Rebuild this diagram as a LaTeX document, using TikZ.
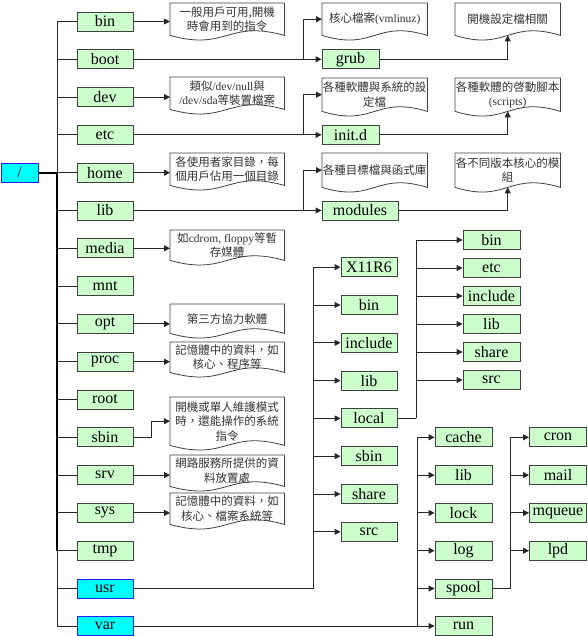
\documentclass[tikz,border=0pt]{standalone}
\usepackage{fontspec}
\setmainfont{Liberation Serif}
\newfontfamily\cjk{Noto Sans CJK TC}
\usetikzlibrary{arrows.meta}
\pgfdeclarelayer{edgelayer}
\pgfdeclarelayer{nodelayer}
\pgfsetlayers{edgelayer,nodelayer,main}
\definecolor{dirfill}{HTML}{CCFFCC}
\definecolor{dirline}{HTML}{404040}
\definecolor{hotfill}{HTML}{00FFFF}
\definecolor{hotline}{HTML}{2020FF}
\definecolor{noteline}{HTML}{404040}
\newcommand{\lat}[1]{{\rmfamily #1}}
\tikzset{font=\fontsize{16}{18}\selectfont}
\tikzstyle{none}=[inner sep=0pt]
\tikzstyle{dir}=[rectangle,draw=dirline,fill=dirfill,line width=0.9pt,minimum width=56pt,minimum height=19pt,inner sep=0pt]
\tikzstyle{dirw}=[dir,minimum width=57pt]
\tikzstyle{hot}=[dir,draw=hotline,fill=hotfill]
\tikzstyle{note}=[inner sep=0pt,minimum width=114pt,minimum height=32pt,align=center,text=black!80,font=\cjk\fontsize{11.5}{14.5}\selectfont]
\tikzstyle{notes}=[note,minimum width=105pt]
\tikzstyle{wave}=[draw=noteline,line width=0.8pt]
\tikzstyle{link}=[draw=black!85,line width=0.9pt]
\tikzstyle{arrow}=[link,-{Triangle[length=6pt,width=6pt]}]
\tikzstyle{trunk}=[draw=black,line width=1.8pt]
\newcommand{\tape}[1]{\draw [style=wave] (#1.north west) -- (#1.north east) -- (#1.south east) .. controls ([yshift=16pt]#1.south) and ([yshift=-16pt]#1.south) .. (#1.south west) -- cycle;}

\begin{document}
\begin{tikzpicture}[x=1pt,y=-1pt]
	\useasboundingbox (0,0) rectangle (587,636);
	\begin{pgfonlayer}{nodelayer}
		\node [style=hot, minimum width=37pt] (0) at (19.5, 172.7) {/};
		\node [style=dir] (1) at (105, 21.5) {bin};
		\node [style=dir] (2) at (105, 59.3) {boot};
		\node [style=dir] (3) at (105, 97.1) {dev};
		\node [style=dir] (4) at (105, 134.9) {etc};
		\node [style=dir] (5) at (105, 172.7) {home};
		\node [style=dir] (6) at (105, 210.5) {lib};
		\node [style=dir] (7) at (105, 248.3) {media};
		\node [style=dir] (8) at (105, 286.1) {mnt};
		\node [style=dir] (9) at (105, 323.9) {opt};
		\node [style=dir] (10) at (105, 361.7) {proc};
		\node [style=dir] (11) at (105, 399.5) {root};
		\node [style=dir] (12) at (105, 437.3) {sbin};
		\node [style=dir] (13) at (105, 475.1) {srv};
		\node [style=dir] (14) at (105, 512.9) {sys};
		\node [style=dir] (15) at (105, 550.7) {tmp};
		\node [style=hot] (16) at (105, 588.5) {usr};
		\node [style=hot] (17) at (105, 626) {var};
		\node [style=note, anchor=north west] (18) at (170, 3) {一般用戶可用,開機\\時會用到的指令};
		\node [style=note, anchor=north west] (19) at (170, 77) {類似\lat{/dev/null}與\\\lat{/dev/sda}等裝置檔案};
		\node [style=note, anchor=north west] (20) at (170, 153) {各使用者家目錄，每\\個用戶佔用一個目錄};
		\node [style=note, anchor=north west, minimum height=30pt] (21) at (170, 230) {如\lat{cdrom, floppy}等暫\\存媒體};
		\node [style=note, anchor=north west, minimum height=29pt] (22) at (170, 304) {第三方協力軟體};
		\node [style=note, anchor=north west, minimum height=30pt] (23) at (170, 342) {記憶體中的資料，如\\核心、程序等};
		\node [style=note, anchor=north west, minimum height=48pt] (24) at (170, 397) {開機或單人維護模式\\時，還能操作的系統\\指令};
		\node [style=note, anchor=north west, minimum height=31pt] (25) at (170, 455) {網路服務所提供的資\\料放置處};
		\node [style=note, anchor=north west, minimum height=31pt] (26) at (170, 493) {記憶體中的資料，如\\核心、檔案系統等};
		\node [style=dirw] (27) at (350.5, 59.3) {grub};
		\node [style=dirw] (28) at (350.5, 134.9) {init.d};
		\node [style=dirw, minimum width=76pt] (29) at (360, 210.5) {modules};
		\node [style=notes, anchor=north west] (30) at (322, 3) {核心檔案\lat{(vmlinuz)}};
		\node [style=notes, anchor=north west] (31) at (455, 3) {開機設定檔相關};
		\node [style=notes, anchor=north west, minimum height=33pt] (32) at (322, 78) {各種軟體與系統的設\\定檔};
		\node [style=notes, anchor=north west, minimum height=33pt] (33) at (455, 78) {各種軟體的啓動腳本\\\lat{(scripts)}};
		\node [style=notes, anchor=north west, minimum height=34pt] (34) at (322, 153) {各種目標檔與函式庫};
		\node [style=notes, anchor=north west, minimum height=34pt] (35) at (455, 153) {各不同版本核心的模\\組};
		\node [style=dir] (36) at (369, 267.2) {X11R6};
		\node [style=dir] (37) at (369, 305) {bin};
		\node [style=dir] (38) at (369, 342.8) {include};
		\node [style=dir] (39) at (369, 380.6) {lib};
		\node [style=dir] (40) at (369, 418.4) {local};
		\node [style=dir] (41) at (369, 456.2) {sbin};
		\node [style=dir] (42) at (369, 494) {share};
		\node [style=dir] (43) at (369, 531.8) {src};
		\node [style=dirw] (44) at (491.5, 240) {bin};
		\node [style=dirw] (45) at (491.5, 268) {etc};
		\node [style=dirw] (46) at (491.5, 296) {include};
		\node [style=dirw] (47) at (491.5, 324) {lib};
		\node [style=dirw] (48) at (491.5, 352) {share};
		\node [style=dirw] (49) at (491.5, 380) {src};
		\node [style=dirw] (50) at (463.5, 437.3) {cache};
		\node [style=dirw] (51) at (463.5, 475.1) {lib};
		\node [style=dirw] (52) at (463.5, 512.9) {lock};
		\node [style=dirw] (53) at (463.5, 550.7) {log};
		\node [style=dirw] (54) at (463.5, 588.5) {spool};
		\node [style=dirw] (55) at (463.5, 626) {run};
		\node [style=dirw] (56) at (558, 437.3) {cron};
		\node [style=dirw] (57) at (558, 475.1) {mail};
		\node [style=dirw] (58) at (558, 512.9) {mqueue};
		\node [style=dirw] (59) at (558, 550.7) {lpd};
		\node [style=none] (60) at (57, 172.7) {};
		\node [style=none] (61) at (303, 59.3) {};
		\node [style=none] (62) at (303, 134.9) {};
		\node [style=none] (63) at (303, 210.5) {};
		\node [style=none] (64) at (151, 437.3) {};
		\node [style=none] (65) at (313, 588.5) {};
		\node [style=none] (66) at (416, 418.4) {};
		\node [style=none] (67) at (417, 626) {};
		\node [style=none] (68) at (510, 588.5) {};
		\node [style=none] (69) at (57, 550.7) {};
	\end{pgfonlayer}
	\begin{pgfonlayer}{edgelayer}
		\tape{18} \tape{19} \tape{20} \tape{21} \tape{22} \tape{23} \tape{24} \tape{25} \tape{26}
		\tape{30} \tape{31} \tape{32} \tape{33} \tape{34} \tape{35}
		\draw [style=link] (60.center) |- (1.west);
		\draw [style=link] (60.center) |- (2.west);
		\draw [style=link] (60.center) |- (3.west);
		\draw [style=link] (60.center) |- (4.west);
		\draw [style=link] (60.center) |- (5.west);
		\draw [style=link] (60.center) |- (6.west);
		\draw [style=link] (60.center) |- (7.west);
		\draw [style=link] (60.center) |- (8.west);
		\draw [style=link] (60.center) |- (9.west);
		\draw [style=link] (60.center) |- (10.west);
		\draw [style=link] (60.center) |- (11.west);
		\draw [style=link] (60.center) |- (12.west);
		\draw [style=link] (60.center) |- (13.west);
		\draw [style=link] (60.center) |- (14.west);
		\draw [style=link] (60.center) |- (15.west);
		\draw [style=link] (60.center) |- (16.west);
		\draw [style=link] (60.center) |- (17.west);
		\draw [style=trunk] (0.east) to (60.center);
		\draw [style=trunk] (60.center) to (69.center);
		\draw [style=arrow] (1.east) to (1.east -| 18.west);
		\draw [style=arrow] (3.east) to (3.east -| 19.west);
		\draw [style=arrow] (5.east) to (5.east -| 20.west);
		\draw [style=arrow] (7.east) to (7.east -| 21.west);
		\draw [style=arrow] (9.east) to (9.east -| 22.west);
		\draw [style=arrow] (10.east) to (10.east -| 23.west);
		\draw [style=arrow] (12.east) -- (64.center) |- (24.west);
		\draw [style=arrow] (13.east) to (13.east -| 25.west);
		\draw [style=arrow] (14.east) to (14.east -| 26.west);
		\draw [style=link] (2.east) to (61.center);
		\draw [style=arrow] (61.center) |- (30.west);
		\draw [style=arrow] (61.center) to (27.west);
		\draw [style=arrow] (27.east) -| (31.south);
		\draw [style=link] (4.east) to (62.center);
		\draw [style=arrow] (62.center) |- (32.west);
		\draw [style=arrow] (62.center) to (28.west);
		\draw [style=arrow] (28.east) -| (33.south);
		\draw [style=link] (6.east) to (63.center);
		\draw [style=arrow] (63.center) |- (34.west);
		\draw [style=arrow] (63.center) to (29.west);
		\draw [style=arrow] (29.east) -| (35.south);
		\draw [style=link] (16.east) to (65.center);
		\draw [style=arrow] (65.center) |- (36.west);
		\draw [style=arrow] (65.center) |- (37.west);
		\draw [style=arrow] (65.center) |- (38.west);
		\draw [style=arrow] (65.center) |- (39.west);
		\draw [style=arrow] (65.center) |- (40.west);
		\draw [style=arrow] (65.center) |- (41.west);
		\draw [style=arrow] (65.center) |- (42.west);
		\draw [style=arrow] (65.center) |- (43.west);
		\draw [style=link] (40.east) to (66.center);
		\draw [style=arrow] (66.center) |- (44.west);
		\draw [style=arrow] (66.center) |- (45.west);
		\draw [style=arrow] (66.center) |- (46.west);
		\draw [style=arrow] (66.center) |- (47.west);
		\draw [style=arrow] (66.center) |- (48.west);
		\draw [style=arrow] (66.center) |- (49.west);
		\draw [style=link] (17.east) to (67.center);
		\draw [style=arrow] (67.center) |- (50.west);
		\draw [style=arrow] (67.center) |- (51.west);
		\draw [style=arrow] (67.center) |- (52.west);
		\draw [style=arrow] (67.center) |- (53.west);
		\draw [style=arrow] (67.center) |- (54.west);
		\draw [style=arrow] (67.center) to (55.west);
		\draw [style=link] (54.east) to (68.center);
		\draw [style=arrow] (68.center) |- (56.west);
		\draw [style=arrow] (68.center) |- (57.west);
		\draw [style=arrow] (68.center) |- (58.west);
		\draw [style=arrow] (68.center) |- (59.west);
	\end{pgfonlayer}
\end{tikzpicture}
\end{document}
